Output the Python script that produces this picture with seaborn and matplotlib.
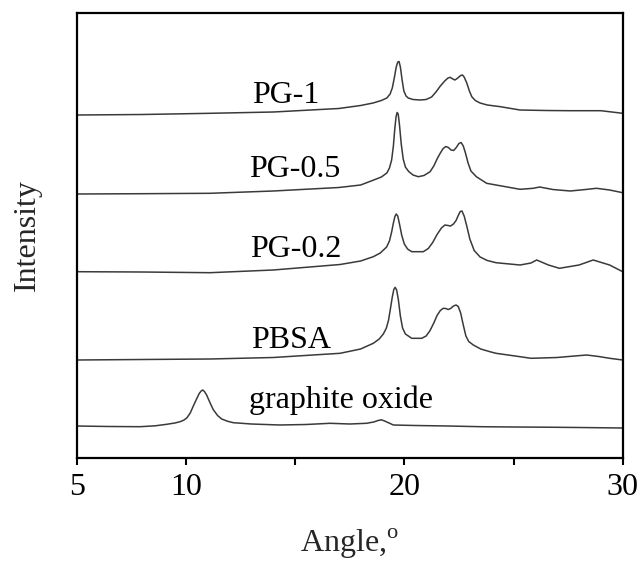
import matplotlib
matplotlib.use("Agg")
import matplotlib.pyplot as plt
import seaborn as sns
import pandas as pd

# XRD patterns (angle in degrees, intensity in arbitrary offset units)
go_angle = [5, 6.5, 7.9, 8.6, 9.12, 9.5, 9.73, 9.9, 10.04, 10.2, 10.34, 10.5, 10.61, 10.7,
            10.77, 10.85, 10.95, 11.1, 11.25, 11.45, 11.64, 11.9, 12.17, 13.0, 14.3, 15.5,
            16.6, 17.5, 18.27, 18.6, 18.8, 18.95, 19.1, 19.3, 19.5, 20.5, 22.0, 23.5, 25.0,
            26.5, 28.0, 30]
go_int = [32, 31.5, 31.3, 32.2, 33.7, 35, 36.3, 37.8, 40, 45, 52, 59.5, 64.5, 67,
          68, 66.5, 63, 55.5, 48.5, 42.5, 39, 36.8, 35.3, 34, 33, 33.5,
          34.7, 34, 34.7, 36, 37.5, 38.2, 37, 35, 33, 32.5, 32, 31.3, 31,
          30.8, 30.5, 30]

pbsa_angle = [5, 8, 11.1, 14, 17.06, 18.0, 18.58, 18.85, 19.04, 19.18, 19.28, 19.37, 19.45,
              19.52, 19.58, 19.65, 19.73, 19.82, 19.92, 20.05, 20.34, 20.8, 21.0, 21.18,
              21.35, 21.5, 21.65, 21.78, 21.9, 22.01, 22.12, 22.25, 22.37, 22.47, 22.58,
              22.7, 22.82, 22.95, 23.16, 23.5, 23.92, 24.2, 25.3, 25.8, 27.0, 27.8, 28.35,
              28.9, 29.4, 30]
pbsa_int = [98, 98.5, 99, 100.5, 104.7, 109, 114.7, 119, 124, 130, 138, 150, 161,
            168.5, 170.7, 168, 158, 142, 130, 124, 119.7, 119.7, 122, 127.5,
            135, 142.5, 147.5, 149.7, 149.5, 148.5, 149.5, 152, 153, 151.5, 145,
            133, 122, 116.5, 113, 109, 106.3, 104.7, 101.3, 99.7, 100.5, 102, 103,
            101.5, 99.7, 98]

pg02_angle = [5, 8, 11.1, 14, 17.06, 18.0, 18.58, 18.9, 19.19, 19.32, 19.42, 19.5, 19.57,
              19.63, 19.7, 19.78, 19.88, 20.0, 20.15, 20.34, 20.87, 21.1, 21.3, 21.5, 21.7,
              21.86, 22.0, 22.12, 22.25, 22.37, 22.47, 22.56, 22.64, 22.74, 22.86, 23.0,
              23.2, 23.47, 23.8, 24.2, 25.3, 25.8, 26.06, 26.6, 27.1, 28.0, 28.65, 29.4, 30]
pg02_int = [186.3, 186, 185.3, 188, 193.5, 197, 201.3, 205, 211, 217, 226, 235, 241.5,
            244, 242, 234, 223, 214, 209, 206.3, 206.3, 209.5, 215.5, 223.5, 230,
            233, 232.5, 232, 234, 237.5, 242.5, 246.5, 247, 242, 232, 219,
            207.5, 201, 197.5, 195.3, 193, 195, 198, 193, 189.7, 193, 198, 193, 186.3]

pg05_angle = [5, 8, 11.1, 14, 17.0, 18.0, 18.6, 18.95, 19.2, 19.32, 19.42, 19.5, 19.56,
              19.62, 19.67, 19.72, 19.78, 19.86, 19.95, 20.05, 20.2, 20.4, 20.64, 20.9, 21.18,
              21.35, 21.5, 21.65, 21.78, 21.9, 22.02, 22.14, 22.26, 22.38, 22.5, 22.6, 22.7,
              22.8, 22.92, 23.05, 23.3, 23.77, 24.2, 25.3, 25.9, 26.2, 26.8, 27.6, 28.3,
              28.8, 29.4, 30]
pg05_int = [264, 264.3, 264.7, 267, 270.5, 273, 278, 281, 285, 290, 298, 312, 328,
            341, 345.5, 344, 333, 314, 299, 291, 286.5, 283, 281.3, 282.5, 286.3,
            292, 299, 305, 309.5, 311.5, 310.5, 308, 307.5, 310.5, 314.5, 315.5, 312,
            305, 295, 287, 281.3, 274.7, 273, 268.7, 269.7, 271, 268.5, 267, 268.5,
            269.7, 268, 265.3]

pg1_angle = [5, 8, 11.1, 14, 17.0, 18.0, 18.57, 18.95, 19.2, 19.35, 19.45, 19.55, 19.63,
             19.7, 19.76, 19.82, 19.9, 19.98, 20.08, 20.18, 20.4, 20.72, 21.0, 21.25, 21.45,
             21.65, 21.85, 22.0, 22.1, 22.22, 22.32, 22.45, 22.58, 22.66, 22.74, 22.86,
             22.98, 23.09, 23.25, 23.47, 23.8, 24.4, 25.3, 26.5, 27.6, 29.0, 30]
pg1_int = [343, 343.5, 344.7, 346, 349.5, 352.5, 355, 357.5, 360, 364, 370, 381, 391,
           396, 396.5, 391, 378, 367, 362, 360, 358.5, 358, 358.5, 361, 366,
           372, 377, 380, 380.7, 379, 378, 380, 382.5, 383, 381, 375,
           367, 361.3, 357.5, 355, 353, 351.3, 348, 347.5, 347.3, 347.3, 344.7]

series = {
    "graphite oxide": (go_angle, go_int),
    "PBSA": (pbsa_angle, pbsa_int),
    "PG-0.2": (pg02_angle, pg02_int),
    "PG-0.5": (pg05_angle, pg05_int),
    "PG-1": (pg1_angle, pg1_int),
}

labels = ["PG-1", "PG-0.5", "PG-0.2", "PBSA", "graphite oxide"]
label_x = [14.56, 15.0, 15.04, 14.8, 17.1]
label_y = [363, 289, 209, 118, 58]

frames = []
for name, (a, i) in series.items():
    frames.append(pd.DataFrame({"angle": a, "intensity": i, "sample": name}))
df = pd.concat(frames, ignore_index=True)

sns.set_style("ticks")
plt.rcParams["font.family"] = ["Liberation Serif", "DejaVu Serif"]
plt.rcParams["mathtext.fontset"] = "custom"
plt.rcParams["mathtext.rm"] = "Liberation Serif"

fig = plt.figure(figsize=(6.4, 5.63), dpi=100)
ax = fig.add_axes([0.1198, 0.1865, 0.8532, 0.7904])

for name in series:
    sns.lineplot(data=df[df["sample"] == name], x="angle", y="intensity", sort=False,
                 color="#3a3a3a", linewidth=1.1, ax=ax, legend=False)

for txt, x, y in zip(labels, label_x, label_y):
    ax.text(x, y, txt, fontsize=23, ha="center", va="center", color="black")

ax.set_xlim(5, 30)
ax.set_ylim(0, 445)
ax.set_xticks([5, 10, 15, 20, 25, 30])
ax.set_xticklabels(["5", "10", "", "20", "", "30"])
ax.set_yticks([])
ax.tick_params(axis="x", direction="out", length=5, width=1.5, labelsize=23, pad=6,
               colors="black")
for sp in ax.spines.values():
    sp.set_visible(True)
    sp.set_linewidth(1.6)
    sp.set_color("black")

ax.set_xlabel("Angle,$^{\\rm o}$", fontsize=23, labelpad=18)
ax.set_ylabel("Intensity", fontsize=23, labelpad=25)

fig.savefig("out.png", dpi=100, facecolor="white")
